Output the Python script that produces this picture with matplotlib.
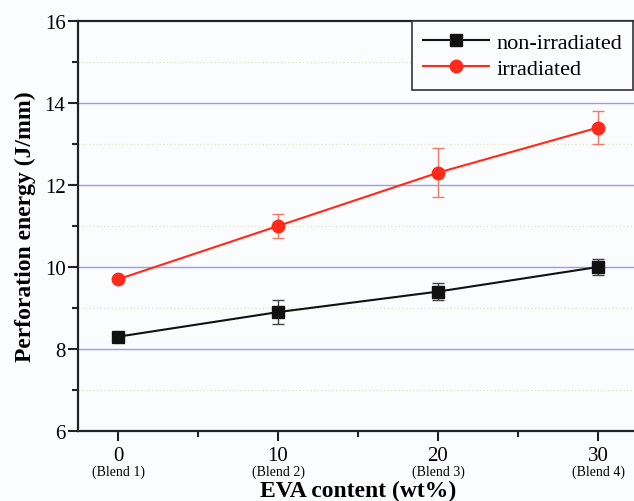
import matplotlib
matplotlib.use('Agg')
import matplotlib.pyplot as plt
from matplotlib.ticker import MultipleLocator
import matplotlib.transforms as mtransforms

# data
eva = [0, 10, 20, 30]
blends = ['(Blend 1)', '(Blend 2)', '(Blend 3)', '(Blend 4)']
non_irr = [8.3, 8.9, 9.4, 10.0]
non_irr_err = [0.05, 0.3, 0.2, 0.2]
irr = [9.7, 11.0, 12.3, 13.4]
irr_err = [0.05, 0.3, 0.6, 0.4]

plt.rcParams['font.family'] = ['Liberation Serif', 'DejaVu Serif']

bg = '#fbfcfe'
fig = plt.figure(figsize=(6.34, 5.02), dpi=100, facecolor=bg)
ax = fig.add_axes([78 / 634, 70 / 502, 560 / 634, 410 / 502])
ax.set_facecolor(bg)

e1 = ax.errorbar(eva, non_irr, yerr=non_irr_err, color='#111111', marker='s',
                 markersize=8, linewidth=1.5, ecolor='#444444', elinewidth=1,
                 capsize=4, capthick=1, label='non-irradiated', zorder=3)
e2 = ax.errorbar(eva, irr, yerr=irr_err, color='#ff2a1a', marker='o',
                 markersize=9, linewidth=1.5, ecolor='#f07a6a', elinewidth=1,
                 capsize=4, capthick=1, label='irradiated', zorder=3)

ax.set_xlim(-2.5, 32.5)
ax.set_ylim(6, 16)
ax.xaxis.set_major_locator(MultipleLocator(10))
ax.xaxis.set_minor_locator(MultipleLocator(5))
ax.yaxis.set_major_locator(MultipleLocator(2))
ax.yaxis.set_minor_locator(MultipleLocator(1))

# grid lines
for y in [8, 10, 12, 14]:
    ax.axhline(y, color='#9a9af2', linewidth=1, zorder=1)
for y in [7, 9, 11, 13, 15]:
    ax.axhline(y, color='#e6eac8', linewidth=1, linestyle=':', zorder=1)

ax.tick_params(which='major', direction='out', length=7, width=1.5,
               labelsize=15, color='#222222', pad=2)
ax.tick_params(which='minor', direction='out', length=4, width=1.5,
               color='#222222')
ax.tick_params(axis='x', which='major', pad=4)
for s in ax.spines.values():
    s.set_linewidth(1.6)
    s.set_color('#222222')

trans = mtransforms.blended_transform_factory(ax.transData, ax.transAxes)
for x, b in zip(eva, blends):
    ax.text(x, -0.098, b, transform=trans, ha='center', va='center',
            fontsize=10)

ax.set_xlabel('EVA content (wt%)', fontsize=17, fontweight='bold')
ax.xaxis.set_label_coords(0.5, -0.118)
ax.set_ylabel('Perforation energy (J/mm)', fontsize=17, fontweight='bold',
              labelpad=6)

leg = ax.legend([e1.lines[0], e2.lines[0]], ['non-irradiated', 'irradiated'],
                loc='upper right', fontsize=16, frameon=True, fancybox=False,
                borderpad=0.5, handlelength=3.0, handletextpad=0.3,
                labelspacing=0.25, borderaxespad=0,
                bbox_to_anchor=(0.991, 1.0))
leg.get_frame().set_edgecolor('#333333')
leg.get_frame().set_linewidth(1.2)
leg.get_frame().set_facecolor(bg)
leg.get_frame().set_alpha(1)

fig.savefig('out.png', dpi=100, facecolor=bg)
